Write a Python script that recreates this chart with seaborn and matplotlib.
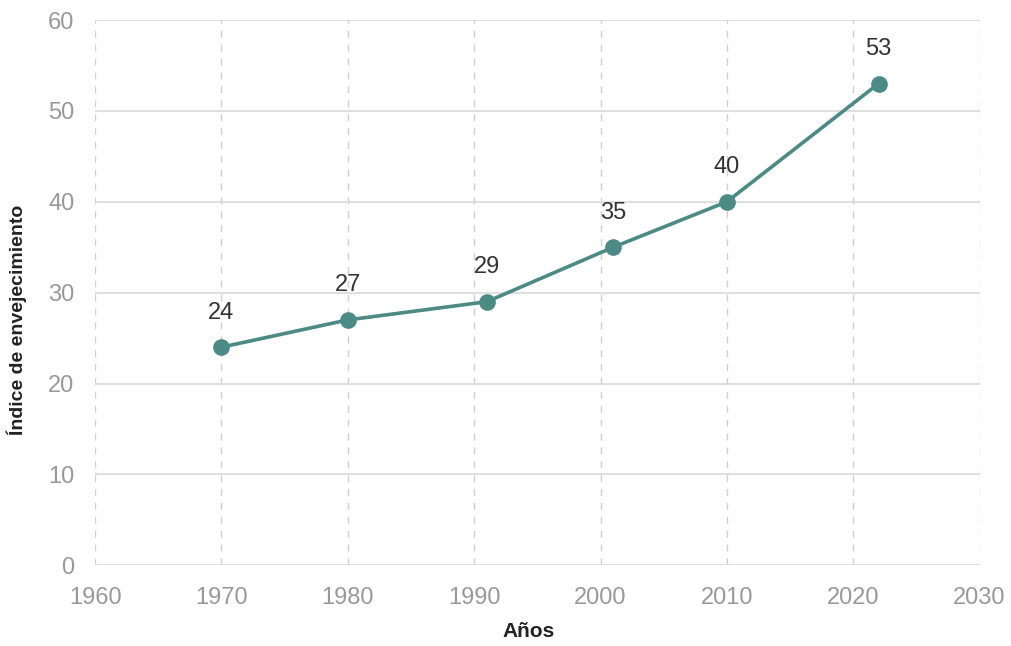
import matplotlib
matplotlib.use("Agg")
import matplotlib.pyplot as plt
import seaborn as sns
import pandas as pd

sns.set_theme(style="white")
plt.rcParams['font.family'] = ['Liberation Sans', 'DejaVu Sans']

# data
years = [1970, 1980, 1991, 2001, 2010, 2022]
index_values = [24, 27, 29, 35, 40, 53]
x_ticks = [1960, 1970, 1980, 1990, 2000, 2010, 2020, 2030]
y_ticks = [0, 10, 20, 30, 40, 50, 60]

df = pd.DataFrame({'Años': years, 'Índice de envejecimiento': index_values})

line_color = '#4b8a85'

fig = plt.figure(figsize=(10.12, 6.46), dpi=100)
ax = fig.add_axes([0.094, 0.125, 0.874, 0.844])

sns.lineplot(ax=ax, data=df, x='Años', y='Índice de envejecimiento',
             color=line_color, linewidth=2.6, marker='o', markersize=12,
             markeredgewidth=0, zorder=3)

for xv, yv in zip(years, index_values):
    ax.annotate(str(yv), (xv, yv), xytext=(0, 17), textcoords='offset points',
                ha='center', va='bottom', fontsize=17, color='#333333')

ax.set_xlim(1960, 2030)
ax.set_ylim(0, 60)
ax.set_xticks(x_ticks)
ax.set_yticks(y_ticks)

ax.grid(axis='y', color='#d9d9d9', linestyle='-', linewidth=1.2)
ax.grid(axis='x', color='#cfcfcf', linestyle=(0, (5, 5)), linewidth=1)
ax.set_axisbelow(True)
for s in ax.spines.values():
    s.set_visible(False)

ax.tick_params(axis='x', length=0, labelsize=17, labelcolor='#999999', pad=16)
ax.tick_params(axis='y', length=0, labelsize=17, labelcolor='#999999', pad=15)

ax.set_xlabel('Años', fontsize=15, color='#222222', fontweight='semibold')
ax.set_ylabel('Índice de envejecimiento', fontsize=14, color='#222222',
              fontweight='semibold')
ax.xaxis.set_label_coords(0.49, -0.104)
ax.yaxis.set_label_coords(-0.077, 0.45)

fig.savefig('out.png', dpi=100)
